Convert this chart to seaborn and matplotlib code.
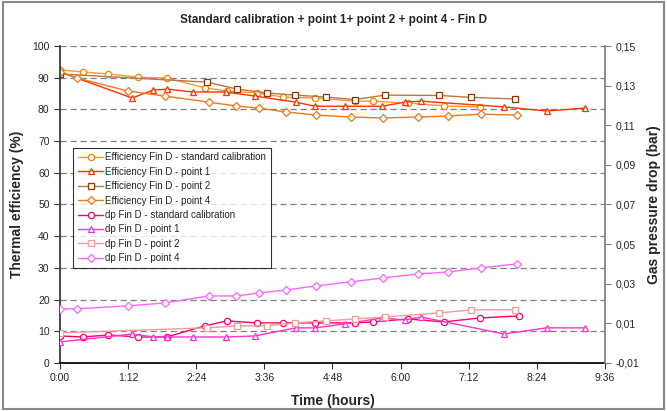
import numpy as np
import pandas as pd
import matplotlib
matplotlib.use("Agg")
import matplotlib.pyplot as plt
from matplotlib.ticker import FuncFormatter, MultipleLocator, FixedLocator
from matplotlib.patches import Rectangle
import seaborn as sns

# ===================== Daten =====================
# Zeit in Stunden, Wirkungsgrad in %, Druckverlust in bar

t_std = [0, 0.40, 0.85, 1.37, 1.88, 2.55, 2.94, 3.47, 3.93, 4.49, 5.19, 5.51, 6.13, 6.76, 7.39, 8.08]
eff_std = [92.5, 91.8, 91.2, 90.2, 89.9, 86.8, 85.8, 85.2, 83.9, 83.6, 82.6, 82.6, 82.0, 81.1, 80.8]
dp_std = [0.0036, 0.0031, 0.0041, 0.0031, 0.0031, 0.0087, 0.0112, 0.0102, 0.0102, 0.0102,
          0.0102, 0.0107, 0.0122, 0.0107, 0.0127, 0.0137]

t_p1 = [0, 1.27, 1.64, 1.88, 2.34, 2.92, 3.43, 4.15, 4.49, 5.02, 5.67, 6.07, 6.36, 7.82, 8.57, 9.24]
eff_p1 = [91.8, 83.6, 86.1, 86.4, 85.5, 85.5, 84.2, 82.3, 81.0, 81.0, 81.0, 82.3, 82.6, 80.8, 79.5, 80.4]
dp_p1 = [0.0006, 0.0046, 0.0031, 0.0031, 0.0031, 0.0031, 0.0036, 0.0077, 0.0077, 0.0097,
         0.0127, 0.0117, 0.0132, 0.0046, 0.0077, 0.0077]

t_p2 = [0, 2.59, 3.12, 3.64, 4.14, 4.68, 5.19, 5.72, 6.67, 7.24, 8.01]
eff_p2 = [91.2, 88.6, 86.4, 85.2, 84.5, 83.9, 83.1, 84.5, 84.4, 83.8, 83.3]
dp_p2 = [0.0052, 0.0077, 0.0087, 0.0087, 0.0102, 0.0112, 0.0122, 0.0132, 0.0152, 0.0168, 0.0168]

t_p4 = [0, 0.30, 1.20, 1.85, 2.62, 3.10, 3.50, 3.98, 4.51, 5.12, 5.69, 6.30, 6.83, 7.41, 8.05]
eff_p4 = [91.8, 89.9, 85.8, 84.2, 82.3, 81.1, 80.4, 79.2, 78.2, 77.6, 77.3, 77.6, 77.9, 78.5, 78.2]
dp_p4 = [0.0173, 0.0173, 0.0188, 0.0203, 0.0238, 0.0238, 0.0253, 0.0268, 0.0289, 0.0309,
         0.0329, 0.0349, 0.0359, 0.0380, 0.0400]

dp_ticks = [-0.01, 0.01, 0.03, 0.05, 0.07, 0.09, 0.11, 0.13, 0.15]

# ===================== Stil =====================

sns.set_theme(style="white")
plt.rcParams['font.family'] = ['Liberation Sans', 'DejaVu Sans']

fig = plt.figure(figsize=(6.67, 4.11), dpi=100)
ax = fig.add_axes([0.090, 0.117, 0.817, 0.771])
ax2 = ax.twinx()

def draw(axis, t, y, label, line_c, mark_c, marker, ms=4.5):
    sns.lineplot(x=t[:len(y)], y=y, ax=axis, label=label, color=line_c,
                 marker=marker, markersize=ms, markerfacecolor='white',
                 markeredgecolor=mark_c, markeredgewidth=0.9, linewidth=1.0,
                 legend=False)

draw(ax, t_std, eff_std, 'Efficiency Fin D - standard calibration', '#FF9933', '#FF8000', 'o')
draw(ax, t_p1, eff_p1, 'Efficiency Fin D - point 1', '#FF3300', '#FF3300', '^')
draw(ax, t_p2, eff_p2, 'Efficiency Fin D - point 2', '#B07A4A', '#993300', 's')
draw(ax, t_p4, eff_p4, 'Efficiency Fin D - point 4', '#F07818', '#F07818', 'D', 4.0)

draw(ax2, t_std, dp_std, 'dp Fin D - standard calibration', '#FF0066', '#FF0066', 'o')
draw(ax2, t_p1, dp_p1, 'dp Fin D - point 1', '#FF33CC', '#FF33CC', '^')
draw(ax2, t_p2, dp_p2, 'dp Fin D - point 2', '#FF9999', '#FF9999', 's')
draw(ax2, t_p4, dp_p4, 'dp Fin D - point 4', '#FF66FF', '#FF66FF', 'D', 4.0)

# ===================== Achsen =====================

ax.set_xlim(0, 9.6)
ax.set_ylim(0, 100)
ax2.set_ylim(-0.01, 0.15)
ax.xaxis.set_major_locator(MultipleLocator(1.2))
ax.yaxis.set_major_locator(MultipleLocator(10))
ax2.yaxis.set_major_locator(FixedLocator(dp_ticks))

def hmm(h, pos):
    m = int(round(h * 60))
    return f"{m // 60}:{m % 60:02d}"

ax.xaxis.set_major_formatter(FuncFormatter(hmm))
ax2.yaxis.set_major_formatter(FuncFormatter(lambda v, p: f"{v:.2f}".replace('.', ',')))

ax.grid(axis='y', color='#808080', linestyle=(0, (5, 3)), linewidth=0.9)
ax.set_axisbelow(True)

for a in (ax, ax2):
    a.spines['top'].set_visible(False)
ax.spines['left'].set_color('#333333')
ax.spines['bottom'].set_color('black')
ax.spines['right'].set_visible(False)
ax2.spines['left'].set_visible(False)
ax2.spines['bottom'].set_visible(False)
ax2.spines['right'].set_color('#808080')

ax.tick_params(axis='both', which='major', labelsize=7.5, direction='out',
               length=4, width=0.8, color='#333333', bottom=True, left=True)
ax2.tick_params(axis='y', labelsize=7.5, direction='out', length=4, width=0.8,
                color='#808080', right=True)

ax.set_xlabel('Time (hours)', fontsize=10, fontweight='bold', labelpad=8)
ax.set_ylabel('Thermal efficiency (%)', fontsize=10, fontweight='bold', labelpad=6)
ax2.set_ylabel('Gas pressure drop (bar)', fontsize=10, fontweight='bold', labelpad=6)
fig.suptitle('Standard calibration + point 1+ point 2 + point 4 - Fin D',
             fontsize=8.5, fontweight='bold', y=0.965)

# ===================== Legende =====================

h1, l1 = ax.get_legend_handles_labels()
h2, l2 = ax2.get_legend_handles_labels()
leg = ax2.legend(h1 + h2, l1 + l2, loc='upper left', bbox_to_anchor=(0.015, 0.695),
                 fontsize=7, frameon=True, fancybox=False, borderpad=0.5,
                 labelspacing=0.45, handlelength=2.6, handletextpad=0.2)
leg.get_frame().set_edgecolor('black')
leg.get_frame().set_linewidth(0.8)

fig.patches.append(Rectangle((0.004, 0.006), 0.992, 0.99, transform=fig.transFigure,
                             fill=False, edgecolor='#888888', linewidth=1.5))

fig.savefig('out.png', dpi=100)
